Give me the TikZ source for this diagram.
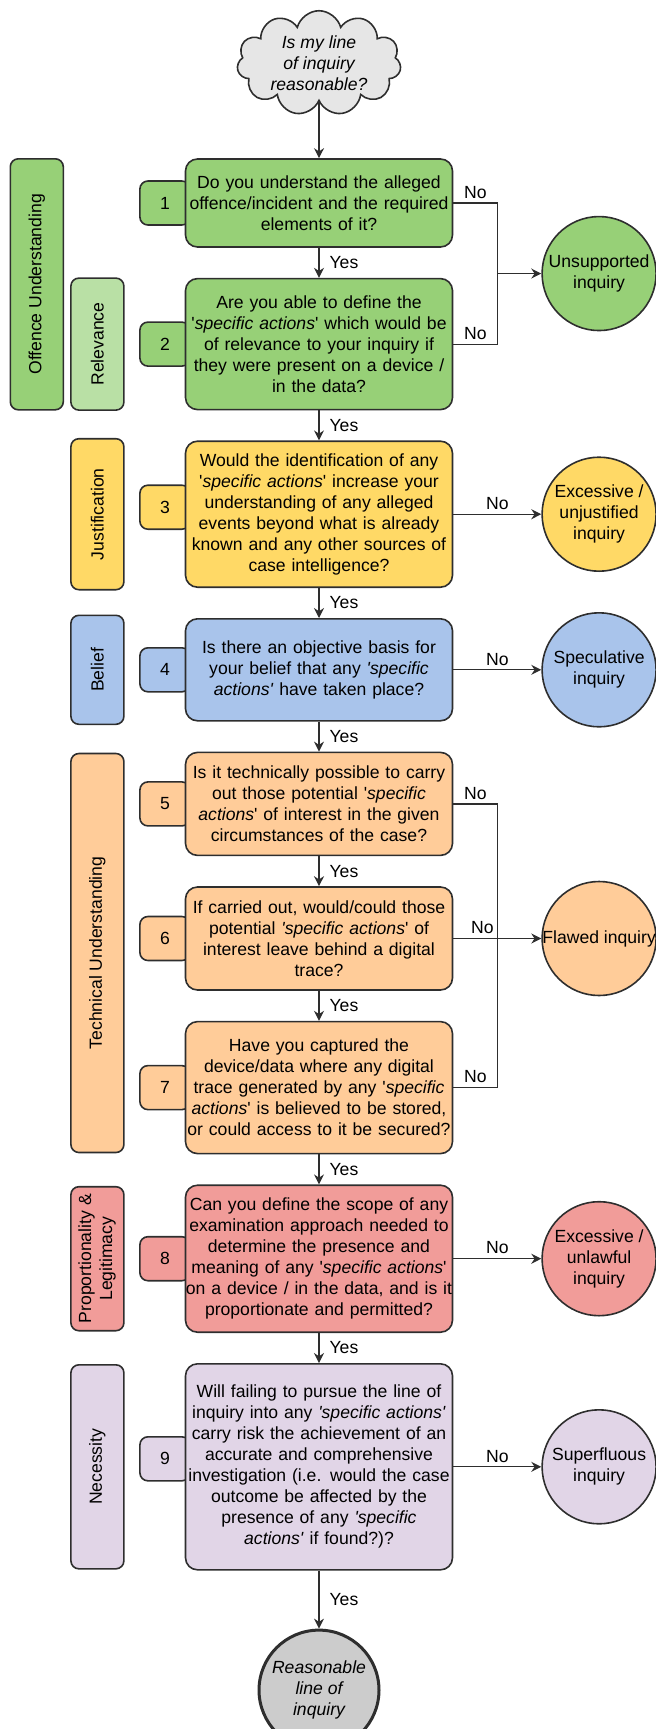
\documentclass[tikz,border=0pt]{standalone}
\usepackage{fontspec}
\setmainfont{Liberation Sans}
\usepackage{graphicx}
\usepackage{tikz}
\usetikzlibrary{shapes.geometric, shapes.symbols, arrows.meta, positioning, calc, backgrounds}
\definecolor{grn}{HTML}{97D077}
\definecolor{lgrn}{HTML}{B9E0A5}
\definecolor{ylw}{HTML}{FFD966}
\definecolor{blu}{HTML}{A9C4EB}
\definecolor{org}{HTML}{FFCC99}
\definecolor{rd}{HTML}{F19C99}
\definecolor{prp}{HTML}{E1D5E7}
\definecolor{cld}{HTML}{E6E6E6}
\definecolor{gry}{HTML}{CCCCCC}
\definecolor{edge}{HTML}{2E2E2E}
\newcommand{\qfont}{\fontsize{8.8pt}{10.5pt}\selectfont}
\newcommand{\sq}{\textquotesingle}

\begin{document}
\begin{tikzpicture}[
    x=0.5pt, y=-0.5pt,
    node distance=15pt and 44pt,
    question/.style={draw=edge, line width=0.8pt, rounded corners=6pt, text width=138pt, inner xsep=-2.25pt, minimum width=133.5pt, align=center, font=\qfont},
    tab/.style={draw=edge, line width=0.8pt, rounded corners=4pt, minimum width=25pt, minimum height=22pt, font=\qfont},
    bar/.style={draw=edge, line width=0.8pt, rounded corners=4pt, minimum width=26.5pt, inner sep=0pt, font=\qfont},
    outcome/.style={circle, draw=edge, line width=0.8pt, minimum size=57pt, inner sep=1pt, align=center, font=\qfont},
    thought/.style={cloud, cloud puffs=11, aspect=1.8, draw=edge, fill=cld, line width=0.8pt, inner sep=0pt, align=center, font=\qfont\itshape},
    arrow/.style={-{Stealth[length=5pt, width=5pt]}, draw=edge, line width=0.6pt},
    wire/.style={draw=edge, line width=0.6pt},
    lbl/.style={font=\qfont, inner sep=2pt}
]
\useasboundingbox (0,0) rectangle (655,1729);

% Questions
\node[question, fill=grn, minimum height=44pt] (q1) at (319,203) {Do you understand the alleged\\offence/incident and the required\\elements of it?};
\node[question, fill=grn, minimum height=65.5pt, below=of q1] (q2) {Are you able to define the\\\sq\textit{specific actions}\sq{} which would be\\of relevance to your inquiry if\\they were present on a device /\\in the data?};
\node[question, fill=ylw, minimum height=73pt, below=of q2] (q3) {Would the identification of any\\\sq\textit{specific actions}\sq{} increase your\\understanding of any alleged\\events beyond what is already\\known and any other sources of\\case intelligence?};
\node[question, fill=blu, minimum height=51pt, below=of q3] (q4) {Is there an objective basis for\\your belief that any \textit{\sq specific}\\\textit{actions\sq} have taken place?};
\node[question, fill=org, minimum height=51.5pt, below=of q4] (q5) {Is it technically possible to carry\\out those potential \sq\textit{specific}\\\textit{actions}\sq{} of interest in the given\\circumstances of the case?};
\node[question, fill=org, minimum height=51.5pt, below=of q5] (q6) {If carried out, would/could those\\potential \textit{\sq specific actions}\sq{} of\\interest leave behind a digital\\trace?};
\node[question, fill=org, minimum height=66pt, below=of q6] (q7) {Have you captured the\\device/data where any digital\\trace generated by any \sq\textit{specific}\\\textit{actions}\sq{} is believed to be stored,\\or could access to it be secured?};
\node[question, fill=rd, minimum height=73.5pt, below=of q7] (q8) {Can you define the scope of any\\examination approach needed to\\determine the presence and\\meaning of any \sq\textit{specific actions}\sq\\on a device / in the data, and is it\\proportionate and permitted?};
\node[question, fill=prp, minimum height=103pt, below=of q8] (q9) {Will failing to pursue the line of\\inquiry into any \textit{\sq specific actions\sq}\\carry risk the achievement of an\\accurate and comprehensive\\investigation (i.e. would the case\\outcome be affected by the\\presence of any \textit{\sq specific}\\\textit{actions\sq} if found?)?};

% Start and end
\node[thought, minimum width=82pt, minimum height=48pt, above=28pt of q1] (start) {Is my line\\of inquiry\\reasonable?};
\node[outcome, fill=gry, line width=1.5pt, minimum size=60pt, font=\qfont\itshape, below=29pt of q9] (final) {Reasonable\\line of\\inquiry};

% Step numbers
\begin{scope}[on background layer]
\node[tab, fill=grn, left=-3pt of q1] (t1) {1};
\node[tab, fill=grn, left=-3pt of q2] (t2) {2};
\node[tab, fill=ylw, left=-3pt of q3, yshift=3.5pt] (t3) {3};
\node[tab, fill=blu, left=-3pt of q4] (t4) {4};
\node[tab, fill=org, left=-3pt of q5] (t5) {5};
\node[tab, fill=org, left=-3pt of q6] (t6) {6};
\node[tab, fill=org, left=-3pt of q7] (t7) {7};
\node[tab, fill=rd, left=-3pt of q8] (t8) {8};
\node[tab, fill=prp, left=-3pt of q9, yshift=4pt] (t9) {9};
\end{scope}

% Principles
\node[bar, fill=lgrn, minimum height=66pt, left=30pt of q2] (relbar) {\rotatebox{90}{Relevance}};
\path (q1.north) -- (q2.south) coordinate[midway] (offmid);
\node[bar, fill=grn, minimum height=125.5pt, anchor=east, xshift=-3pt] (offbar) at (offmid -| relbar.west) {\rotatebox{90}{Offence Understanding}};
\node[bar, fill=ylw, minimum height=75.5pt, left=30pt of q3] (justbar) {\rotatebox{90}{Justification}};
\node[bar, fill=blu, minimum height=54.5pt, left=30pt of q4] (belbar) {\rotatebox{90}{Belief}};
\path (q5.north) -- (q7.south) coordinate[midway] (techmid);
\node[bar, fill=org, minimum height=199.5pt] (techbar) at (techmid -| relbar) {\rotatebox{90}{Technical Understanding}};
\node[bar, fill=rd, minimum height=72pt, left=30pt of q8] (propbar) {\rotatebox{90}{\begin{tabular}{@{}c@{}}Proportionality \&\\Legitimacy\end{tabular}}};
\node[bar, fill=prp, minimum height=102pt, left=30pt of q9] (necbar) {\rotatebox{90}{Necessity}};

% Outcomes
\coordinate[right=22pt of q1] (j1);
\coordinate[right=22pt of q2] (j2);
\path (j1) -- (j2) coordinate[midway] (m12);
\node[outcome, fill=grn, right=22pt of m12] (unsup) {Unsupported\\inquiry};
\node[outcome, fill=ylw, right=of q3] (unjust) {Excessive /\\unjustified\\inquiry};
\node[outcome, fill=blu, right=of q4] (spec) {Speculative\\inquiry};
\node[outcome, fill=org, right=of q6] (flawed) {\makebox[52pt]{Flawed inquiry}};
\node[outcome, fill=rd, right=of q8] (unlawful) {Excessive /\\unlawful\\inquiry};
\node[outcome, fill=prp, right=of q9] (superf) {Superfluous\\inquiry};
\coordinate[right=22pt of q5] (j5);
\coordinate[right=22pt of q7] (j7);

% Yes arrows
\draw[arrow] (start) -- (q1);
\draw[arrow] (q1) -- node[lbl, right=3pt] {Yes} (q2);
\draw[arrow] (q2) -- node[lbl, right=3pt] {Yes} (q3);
\draw[arrow] (q3) -- node[lbl, right=3pt] {Yes} (q4);
\draw[arrow] (q4) -- node[lbl, right=3pt] {Yes} (q5);
\draw[arrow] (q5) -- node[lbl, right=3pt] {Yes} (q6);
\draw[arrow] (q6) -- node[lbl, right=3pt] {Yes} (q7);
\draw[arrow] (q7) -- node[lbl, right=3pt] {Yes} (q8);
\draw[arrow] (q8) -- node[lbl, right=3pt] {Yes} (q9);
\draw[arrow] (q9) -- node[lbl, right=3pt] {Yes} (final);

% No arrows
\draw[wire] (q1) -- node[lbl, above] {No} (j1) -- (j2) -- node[lbl, above] {No} (q2);
\draw[arrow] (m12) -- (unsup);
\draw[arrow] (q3) -- node[lbl, above] {No} (unjust);
\draw[arrow] (q4) -- node[lbl, above] {No} (spec);
\draw[wire] (q5) -- node[lbl, above] {No} (j5) -- (j7) -- node[lbl, above] {No} (q7);
\draw[arrow] (q6) -- node[lbl, above, pos=0.33] {No} (flawed);
\draw[arrow] (q8) -- node[lbl, above] {No} (unlawful);
\draw[arrow] (q9) -- node[lbl, above] {No} (superf);

\end{tikzpicture}
\end{document}
